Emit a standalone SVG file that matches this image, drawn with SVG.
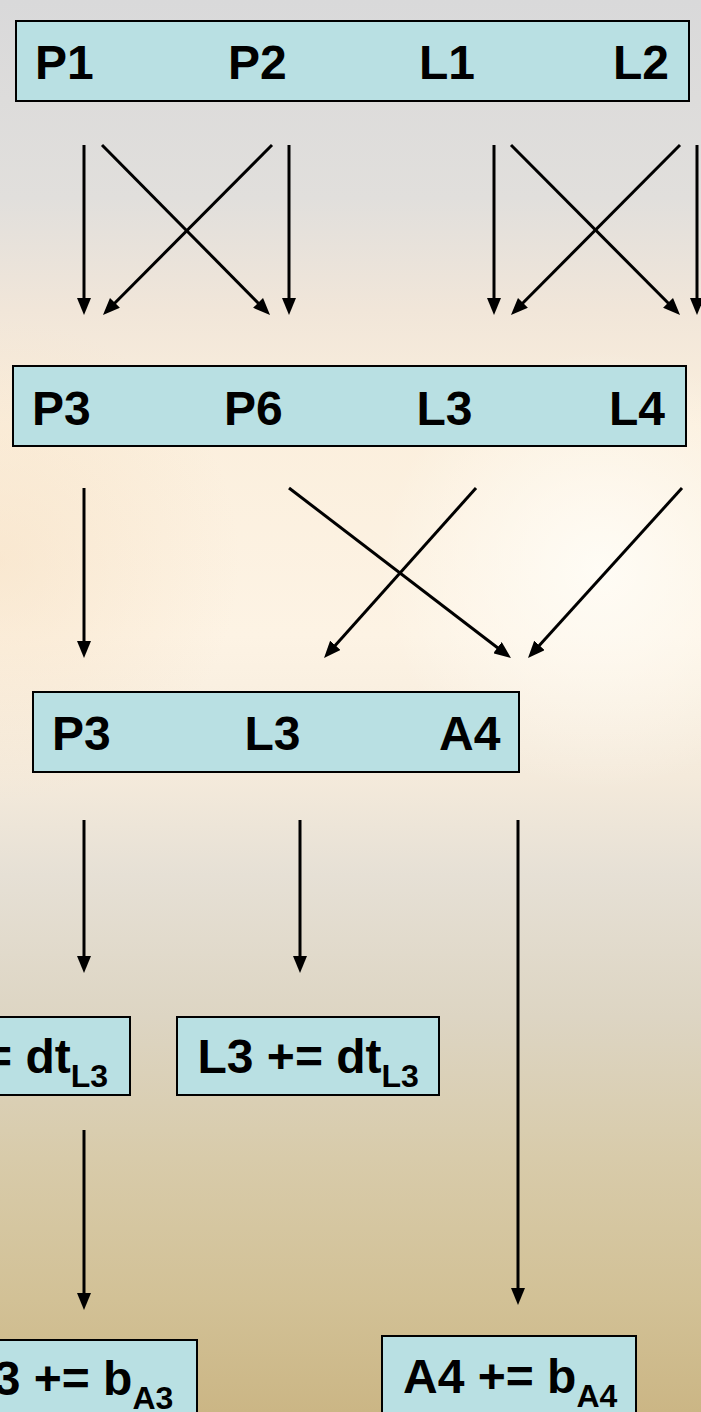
<svg xmlns="http://www.w3.org/2000/svg" width="701" height="1412" viewBox="0 0 701 1412">
  <defs>
    <linearGradient id="bg" x1="0" y1="0" x2="0" y2="1">
      <stop offset="0" stop-color="#d9d9da"/>
      <stop offset="0.14" stop-color="#e1dfdc"/>
      <stop offset="0.22" stop-color="#f1e6d9"/>
      <stop offset="0.3" stop-color="#fbefdd"/>
      <stop offset="0.45" stop-color="#fdf3e4"/>
      <stop offset="0.55" stop-color="#f4eadb"/>
      <stop offset="0.62" stop-color="#e6e0d5"/>
      <stop offset="0.72" stop-color="#ddd5c3"/>
      <stop offset="0.82" stop-color="#d8cbaa"/>
      <stop offset="0.92" stop-color="#d2c196"/>
      <stop offset="1" stop-color="#cbb685"/>
    </linearGradient>
    <radialGradient id="warm" cx="0" cy="560" r="240" gradientUnits="userSpaceOnUse">
      <stop offset="0" stop-color="#f5dcbc" stop-opacity="0.45"/>
      <stop offset="1" stop-color="#f5dcbc" stop-opacity="0"/>
    </radialGradient>
    <radialGradient id="light" cx="600" cy="570" r="220" gradientUnits="userSpaceOnUse">
      <stop offset="0" stop-color="#fffdf7" stop-opacity="0.9"/>
      <stop offset="1" stop-color="#fffdf7" stop-opacity="0"/>
    </radialGradient>
    <marker id="ah" viewBox="0 0 17 14" refX="10" refY="7" markerWidth="17" markerHeight="14" markerUnits="userSpaceOnUse" orient="auto">
      <path d="M0,0 L17,7 L0,14 Z" fill="#000"/>
    </marker>
    <style>
      .box { fill: #b9e0e3; stroke: #000; stroke-width: 2; }
      .t { font-family: "Liberation Sans", Arial, sans-serif; font-weight: bold; font-size: 48px; fill: #000; }
      .sub { font-size: 32px; }
      .c line { stroke: #000; stroke-width: 3; marker-end: url(#ah); }
    </style>
  </defs>

  <rect x="0" y="0" width="701" height="1412" fill="url(#bg)"/>
  <rect x="0" y="0" width="701" height="1412" fill="url(#warm)"/>
  <rect x="0" y="0" width="701" height="1412" fill="url(#light)"/>

  <g id="row1">
    <rect class="box" x="16" y="21" width="673" height="80"/>
    <text class="t" x="35" y="79">P1</text>
    <text class="t" x="228" y="79">P2</text>
    <text class="t" x="419" y="79">L1</text>
    <text class="t" x="613" y="79">L2</text>
  </g>

  <g id="row2">
    <rect class="box" x="13" y="366" width="673" height="80"/>
    <text class="t" x="32" y="425">P3</text>
    <text class="t" x="224" y="425">P6</text>
    <text class="t" x="416.5" y="425">L3</text>
    <text class="t" x="609" y="425">L4</text>
  </g>

  <g id="row3">
    <rect class="box" x="33" y="692" width="486" height="80"/>
    <text class="t" x="52" y="750">P3</text>
    <text class="t" x="244.5" y="750">L3</text>
    <text class="t" x="439" y="750">A4</text>
  </g>

  <g id="p3-update">
    <rect class="box" x="-137" y="1017" width="267" height="78"/>
    <text class="t" x="-116" y="1073">P3 += dt<tspan class="sub" dy="14">L3</tspan></text>
  </g>

  <g id="l3-update">
    <rect class="box" x="177" y="1017" width="262" height="78"/>
    <text class="t" x="197.5" y="1073">L3 += dt<tspan class="sub" dy="14">L3</tspan></text>
  </g>

  <g id="a3-update">
    <rect class="box" x="-62" y="1340" width="259" height="90"/>
    <text class="t" x="-41" y="1395">A3 += b<tspan class="sub" dy="14">A3</tspan></text>
  </g>

  <g id="a4-update">
    <rect class="box" x="382" y="1336" width="254" height="90"/>
    <text class="t" x="403" y="1393">A4 += b<tspan class="sub" dy="14">A4</tspan></text>
  </g>

  <g id="connectors" class="c">
    <line x1="84" y1="145" x2="84" y2="308"/>
    <line x1="102" y1="145" x2="265.1" y2="310"/>
    <line x1="272" y1="145" x2="107.9" y2="310"/>
    <line x1="289" y1="145" x2="289" y2="308"/>
    <line x1="494" y1="145" x2="494" y2="308"/>
    <line x1="511" y1="145" x2="675.1" y2="310"/>
    <line x1="680" y1="145" x2="515.9" y2="310"/>
    <line x1="697" y1="145" x2="697" y2="308"/>

    <line x1="84" y1="488" x2="84" y2="651"/>
    <line x1="289" y1="488" x2="505.4" y2="653.7"/>
    <line x1="476" y1="488" x2="328.7" y2="652.8"/>
    <line x1="682" y1="488" x2="532.7" y2="652.8"/>

    <line x1="84" y1="820" x2="84" y2="966"/>
    <line x1="300" y1="820" x2="300" y2="966"/>
    <line x1="518" y1="820" x2="518" y2="1298"/>

    <line x1="84" y1="1130" x2="84" y2="1303"/>
  </g>
</svg>
